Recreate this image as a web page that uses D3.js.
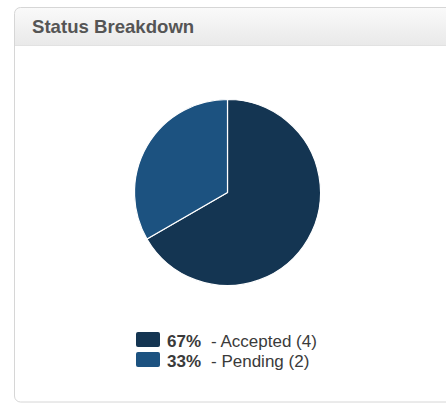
<!DOCTYPE html>
<html>
<head>
<meta charset="utf-8">
<script src="https://cdn.jsdelivr.net/npm/d3@7"></script>
<style>
  html, body { margin: 0; padding: 0; background: #fff; }
  svg { display: block; font-family: Arial, "Liberation Sans", sans-serif; }
</style>
</head>
<body>
<svg id="chart" width="446" height="403"></svg>
<script>
// Status counts shown in the panel
const statuses = ["Accepted", "Pending"];
const counts = [4, 2];
const colors = ["#143552", "#1c5280"];
const title = "Status Breakdown";

const svg = d3.select("#chart");

// Panel frame with a grey gradient header
const defs = svg.append("defs");
const grad = defs.append("linearGradient")
  .attr("id", "hdr").attr("x1", 0).attr("y1", 0).attr("x2", 0).attr("y2", 1);
grad.append("stop").attr("offset", "0%").attr("stop-color", "#fafafa");
grad.append("stop").attr("offset", "100%").attr("stop-color", "#e9e9e9");

const px = 14.5, py = 7.5, pw = 460, ph = 394.5, hh = 38;
defs.append("clipPath").attr("id", "panelClip")
  .append("rect").attr("x", px).attr("y", py).attr("width", pw).attr("height", ph).attr("rx", 6);

svg.append("rect")
  .attr("x", px).attr("y", py).attr("width", pw).attr("height", ph)
  .attr("rx", 6).attr("fill", "#fff");
svg.append("rect")
  .attr("clip-path", "url(#panelClip)")
  .attr("x", px).attr("y", py).attr("width", pw).attr("height", hh)
  .attr("fill", "url(#hdr)");
svg.append("line")
  .attr("x1", px).attr("x2", px + pw)
  .attr("y1", py + hh).attr("y2", py + hh)
  .attr("stroke", "#e2e2e2");
svg.append("rect")
  .attr("x", px).attr("y", py).attr("width", pw).attr("height", ph)
  .attr("rx", 6).attr("fill", "none").attr("stroke", "#d6d6d6");

svg.append("text")
  .attr("x", 32).attr("y", 33)
  .attr("font-size", 18.6).attr("font-weight", "bold")
  .attr("fill", "#555555")
  .text(title);

// Pie
const data = statuses.map((s, i) => ({ status: s, count: counts[i], color: colors[i] }));
const total = d3.sum(counts);
const pie = d3.pie().sort(null).value(d => d.count);
const radius = 93;
const arc = d3.arc().innerRadius(0).outerRadius(radius);

const g = svg.append("g").attr("transform", "translate(227.5,192.5)");
g.selectAll("path")
  .data(pie(data))
  .join("path")
  .attr("d", arc)
  .attr("fill", d => d.data.color)
  .attr("stroke", "#ffffff")
  .attr("stroke-width", 1.2)
  .attr("stroke-linejoin", "round");

// Legend
const fmt = d3.format(".0%");
const legend = svg.append("g").attr("transform", "translate(136,332)");
const rows = legend.selectAll("g")
  .data(data)
  .join("g")
  .attr("transform", (d, i) => `translate(0,${i * 20})`);
rows.append("rect")
  .attr("width", 24).attr("height", 15).attr("rx", 2)
  .attr("fill", d => d.color);
const txt = rows.append("text")
  .attr("x", 31).attr("y", 14.5)
  .attr("font-size", 17).attr("fill", "#3a3a3a");
txt.append("tspan").attr("font-weight", "bold").text(d => fmt(d.count / total));
txt.append("tspan").attr("dx", 10).text(d => `- ${d.status} (${d.count})`);
</script>
</body>
</html>
